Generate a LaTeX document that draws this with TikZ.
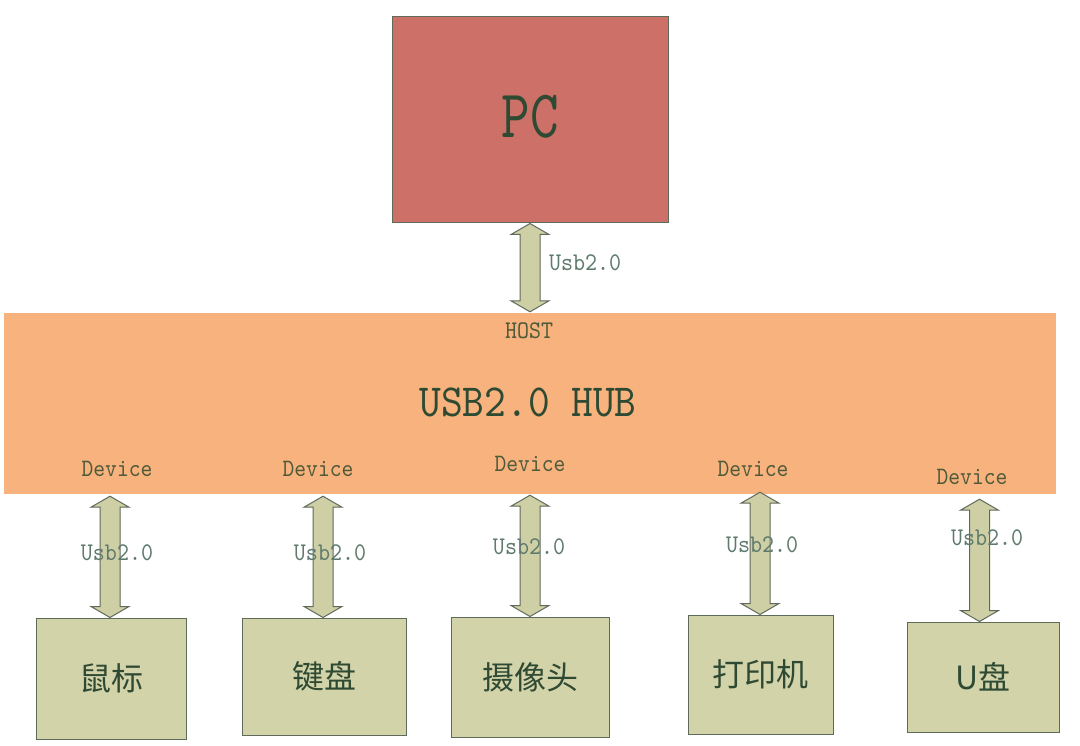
\documentclass[tikz,border=0pt]{standalone}
\usepackage{fontspec}
\newfontfamily\latf[FakeStretch=0.9,Extension=.otf]{lmmono10-regular}
\newfontfamily\pcf[FakeStretch=0.8,Extension=.otf]{lmmono10-regular}
\newfontfamily\cjk{Noto Sans CJK SC}
\usetikzlibrary{calc}
\definecolor{pcred}{HTML}{CC7068}
\definecolor{huborange}{HTML}{F7B27D}
\definecolor{khaki}{HTML}{D3D3AA}
\definecolor{arrfill}{HTML}{CFCFA6}
\definecolor{edgegray}{HTML}{5F6B5A}
\definecolor{txtgreen}{HTML}{2F4A33}
\definecolor{lblgreen}{HTML}{5E7A6C}
\definecolor{devtxt}{HTML}{4F5A3A}
\newcommand\dblarr[2]{%
  \path[arrstyle] let \p1=(#1), \p2=(#2) in
    (\x1,\y1) -- (\x1+19pt,\y1-11pt) -- (\x1+10pt,\y1-11pt) --
    (\x1+10pt,\y2+11pt) -- (\x1+19pt,\y2+11pt) -- (\x1,\y2) --
    (\x1-19pt,\y2+11pt) -- (\x1-10pt,\y2+11pt) --
    (\x1-10pt,\y1-11pt) -- (\x1-19pt,\y1-11pt) -- cycle;}
\begin{document}
\begin{tikzpicture}[x=1pt,y=-1pt,
  arrstyle/.style={draw=edgegray, line width=1pt, fill=arrfill, line join=miter},
  devbox/.style={draw=edgegray, line width=1pt, fill=khaki, inner sep=0pt,
    font=\cjk\fontsize{32}{36}\selectfont, text=txtgreen},
  usblbl/.style={font=\latf\fontsize{25.4}{28}\selectfont, text=lblgreen, inner sep=0pt},
  devlbl/.style={font=\latf\fontsize{25}{28}\selectfont, text=devtxt, inner sep=0pt}]
\useasboundingbox[fill=white] (0,0) rectangle (1080,746);

% hub bar
\node[fill=huborange, inner sep=0pt, minimum width=1052pt, minimum height=181pt] (hub) at (530,403.5) {};
% PC
\node[draw=edgegray, line width=1pt, fill=pcred, inner sep=0pt,
      minimum width=276pt, minimum height=206pt] (pc) at (530,120) {};
\node[font=\pcf\fontsize{68}{72}\selectfont, text=txtgreen, inner sep=0pt] (pctxt) at (530,117) {PC};

% device boxes
\node[devbox, minimum width=150pt, minimum height=121pt] (box1) at (111,678.5) {鼠标};
\node[devbox, minimum width=164pt, minimum height=117pt] (box2) at (324,676.5) {键盘};
\node[devbox, minimum width=158pt, minimum height=120pt] (box3) at (530,677) {摄像头};
\node[devbox, minimum width=145pt, minimum height=119pt] (box4) at (760.5,674.5) {打印机};
\node[devbox, minimum width=152pt, minimum height=110pt] (box5) at (983,677) {U盘};

% arrow end points
\coordinate (p0t) at (pc.south);
\coordinate (p0b) at ($(hub.north -| pc.south)+(0,-1)$);
\coordinate (a1t) at ($(hub.south -| box1.north)+(-1,2)$);
\coordinate (a1b) at ($(box1.north)+(-1,0)$);
\coordinate (a2t) at ($(hub.south -| box2.north)+(-1,2)$);
\coordinate (a2b) at ($(box2.north)+(-1,0)$);
\coordinate (a3t) at ($(hub.south -| box3.north)+(0,1)$);
\coordinate (a3b) at (box3.north);
\coordinate (a4t) at ($(hub.south -| box4.north)+(-0.5,-2)$);
\coordinate (a4b) at ($(box4.north)+(-0.5,0)$);
\coordinate (a5t) at ($(hub.south -| box5.north)+(-3.5,5)$);
\coordinate (a5b) at ($(box5.north)+(-3.5,0)$);

\dblarr{p0t}{p0b}
\dblarr{a1t}{a1b}
\dblarr{a2t}{a2b}
\dblarr{a3t}{a3b}
\dblarr{a4t}{a4b}
\dblarr{a5t}{a5b}

% hub texts
\node[font=\latf\fontsize{25.4}{28}\selectfont, text=devtxt, inner sep=0pt] (host) at (529,331) {HOST};
\node[font=\latf\fontsize{46}{50}\selectfont, text=txtgreen, inner sep=0pt] (hubtxt) at (528,402) {USB2.0 HUB};
\node[devlbl] (d1) at (117,469) {Device};
\node[devlbl] (d2) at (318,469) {Device};
\node[devlbl] (d3) at (530,464) {Device};
\node[devlbl] (d4) at (753,469) {Device};
\node[devlbl] (d5) at (972,477) {Device};

% Usb2.0 labels
\node[usblbl, anchor=west] (u0) at (549,263) {Usb2.0};
\node[usblbl] (u1) at (117,553) {Usb2.0};
\node[usblbl] (u2) at (330,553) {Usb2.0};
\node[usblbl] (u3) at (529,547) {Usb2.0};
\node[usblbl] (u4) at (762,545) {Usb2.0};
\node[usblbl] (u5) at (987,538) {Usb2.0};
\end{tikzpicture}
\end{document}
